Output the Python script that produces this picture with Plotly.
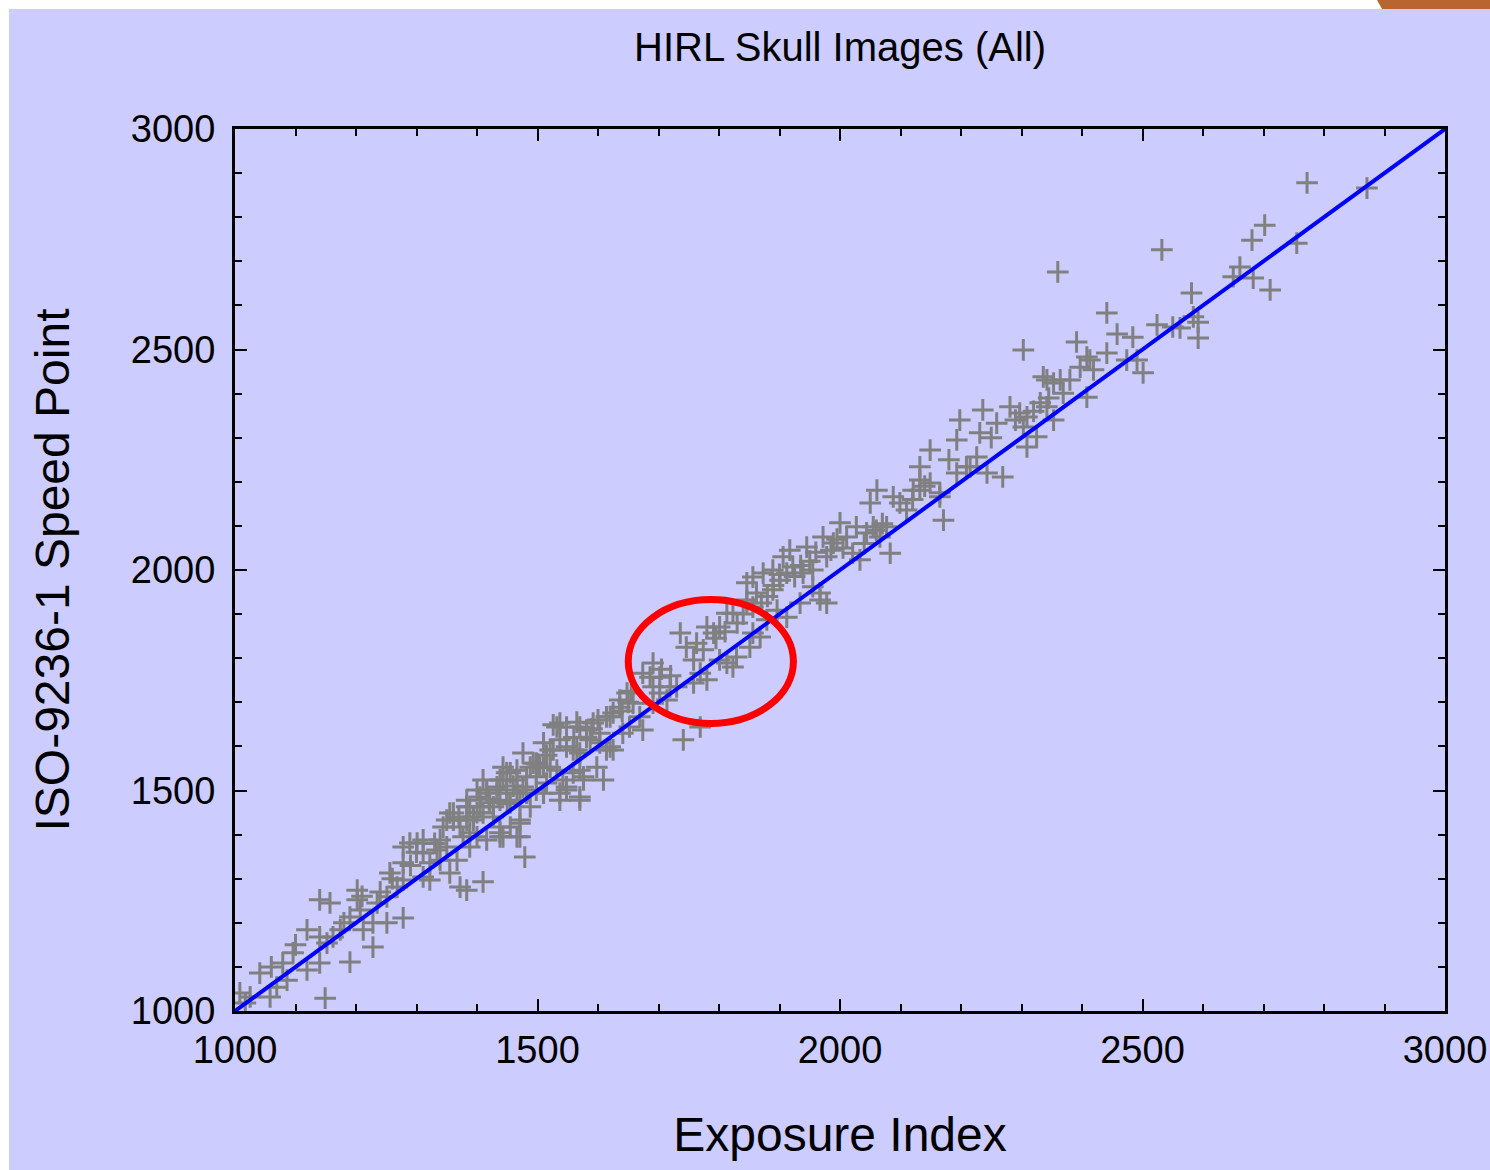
import plotly.graph_objects as go

# ---------------- data ----------------
exposure_index = [
    1008, 1025, 1017, 1058, 1041, 1079, 1096, 1086, 1069, 1119, 1140, 1119, 1140, 1152, 1162, 1174,
    1140, 1157, 1190, 1202, 1202, 1207, 1212, 1228, 1190, 1149, 1228, 1251, 1251, 1235, 1278, 1256,
    1268, 1278, 1278, 1278, 1289, 1301, 1311, 1322, 1322, 1334, 1339, 1350, 1355, 1372, 1383, 1410,
    1367, 1377, 1388, 1400, 1443, 1466, 1479, 1311,
    1350, 1361, 1372, 1383, 1394, 1405, 1416, 1433, 1443, 1427, 1438, 1471, 1471, 1449, 1466, 1476,
    1493, 1504, 1510, 1526, 1537, 1548, 1565, 1570, 1548, 1537, 1570, 1576, 1598, 1609, 1532, 1537,
    1570, 1581, 1592, 1587, 1603, 1620, 1614, 1625, 1636, 1648, 1658, 1674, 1669, 1691, 1702, 1719,
    1476, 1482, 1498,
    1620, 1655, 1674, 1691, 1686, 1702, 1691, 1714, 1730, 1741, 1769, 1736, 1746, 1763, 1774, 1758,
    1780, 1791, 1801, 1813, 1823, 1801, 1813, 1823, 1829, 1769, 1780, 1758, 1846, 1856, 1862, 1873,
    1889, 1901, 1912, 1922, 1879, 1896, 1856, 1868, 1912, 1934, 1939, 1955, 1978, 1967, 1846, 1856,
    1889, 1955,
    1906, 1917, 1945, 1967, 1972, 1978, 1989, 2000, 2011, 2021, 2027, 2033, 2044, 2055, 2066, 2077,
    2083, 2061, 2050, 2088, 2099, 2110, 2121, 2132, 2132, 2149, 2165, 2171, 2193, 2215, 2243, 1846,
    1851,
    2165, 2149, 2193, 2198, 2231, 2236, 2259, 2269, 2226, 2209, 2281, 2297, 2309, 2303, 2309, 2325,
    2331, 2342, 2353, 2342, 2353, 2364, 2380, 2369, 2408, 2397, 2408, 2419, 2441, 2474, 2501, 2303,
    2132,
    2360, 2532, 2391, 2441, 2458, 2484, 2491, 2524, 2550, 2562, 2581, 2584, 2592, 2592, 2661, 2650,
    2683, 2681, 2702, 2711, 2755, 2413, 2336,
    2772, 2871,
    1548, 1526, 1565, 1521, 1559, 1570, 1581, 1603, 1614, 1625, 1641, 1652, 1636, 1488, 1498, 1510,
    1521, 1532, 1542, 1559, 1576, 1548, 1570, 1537, 1443, 1455, 1466, 1438, 1410, 1400, 1416, 1433,
    1449, 1466, 1471, 1482, 1498, 1510, 1515, 1488, 1383, 1388, 1405, 1421, 1438, 1455, 1355, 1361,
    1383, 1394, 1410, 1427, 1438, 1455, 1471, 1438, 1416, 1388, 1344, 1339, 1311,
    1890, 1900, 1925, 1935, 1950, 1960, 1985, 1995, 2005, 2040, 2060, 2070, 1880, 1870, 1840, 1830,
    1810, 1795, 1720, 1705, 1650, 1640, 1600, 1590, 1560, 1515, 1500, 1460, 1450, 1420, 1400, 1370,
    1330, 1300, 1290, 1260, 1240, 1210, 1180, 1100, 1060, 2290, 2320, 2345, 2250, 2180, 2120, 2140,
]
speed_point = [
    1041, 1032, 1018, 1032, 1086, 1109, 1132, 1070, 1054, 1093, 1109, 1184, 1168, 1154, 1168, 1184,
    1252, 1245, 1213, 1274, 1252, 1229, 1184, 1145, 1111, 1029, 1200, 1200, 1259, 1245, 1211, 1313,
    1281, 1297, 1336, 1372, 1381, 1381, 1358, 1336, 1297, 1365, 1342, 1372, 1313, 1281, 1274, 1293,
    1342, 1395, 1372, 1395, 1395, 1395, 1349, 1304,
    1433, 1449, 1417, 1463, 1433, 1485, 1501, 1508, 1524, 1463, 1404, 1426, 1395, 1540, 1546, 1585,
    1562, 1553, 1608, 1592, 1615, 1599, 1592, 1546, 1508, 1494, 1485, 1531, 1553, 1524, 1644, 1653,
    1644, 1637, 1653, 1615, 1608, 1599, 1667, 1676, 1705, 1721, 1698, 1637, 1667, 1698, 1721, 1735,
    1508, 1531, 1531,
    1667, 1725, 1766, 1789, 1757, 1757, 1735, 1705, 1735, 1615, 1644, 1857, 1825, 1834, 1819, 1796,
    1871, 1857, 1871, 1902, 1902, 1796, 1789, 1780, 1803, 1766, 1751, 1744, 1932, 1916, 1948, 1993,
    2000, 1977, 1993, 2007, 1887, 1909, 1857, 1848, 1893, 1925, 1993, 2000, 1925, 1948, 1971, 1984,
    1955, 1962,
    2030, 2045, 2052, 1932, 2075, 2030, 2061, 2107, 2075, 2038, 2098, 2023, 2084, 2098, 2075, 2098,
    2038, 2181, 2152, 2166, 2152, 2136, 2181, 2234, 2181, 2197, 2175, 2113, 2220, 2234, 2220, 1925,
    1825,
    2166, 2272, 2295, 2340, 2311, 2363, 2333, 2211, 2256, 2234, 2370, 2356, 2347, 2324, 2279, 2302,
    2379, 2370, 2340, 2431, 2424, 2431, 2431, 2401, 2392, 2460, 2483, 2454, 2492, 2476, 2447, 2499,
    2204,
    2676, 2726, 2517, 2583, 2535, 2528, 2476, 2556, 2551, 2549, 2628, 2574, 2562, 2526, 2687, 2665,
    2662, 2748, 2782, 2635, 2741, 2476, 2438,
    2878, 2866,
    1644, 1649, 1655, 1592, 1592, 1585, 1621, 1630, 1592, 1592, 1630, 1644, 1689, 1553, 1562, 1553,
    1553, 1546, 1524, 1540, 1524, 1501, 1478, 1478, 1553, 1540, 1524, 1524, 1524, 1501, 1494, 1501,
    1494, 1501, 1478, 1494, 1501, 1494, 1517, 1463, 1478, 1463, 1463, 1472, 1478, 1472, 1449, 1433,
    1433, 1440, 1449, 1440, 1417, 1417, 1433, 1395, 1388, 1404, 1417, 1388, 1388,
    1965, 1990, 1985, 2010, 2020, 2040, 2045, 2070, 2050, 2060, 2090, 2105, 1940, 1925, 1900, 1880,
    1860, 1845, 1760, 1775, 1700, 1680, 1660, 1640, 1620, 1580, 1560, 1510, 1470, 1480, 1450, 1440,
    1380, 1360, 1330, 1300, 1270, 1260, 1200, 1150, 1100, 2340, 2360, 2390, 2300, 2250, 2160, 2190,
]

identity_x = [1000, 3000]
identity_y = [1000, 3000]

axis_range = [1000, 3000]
major_ticks = [1000, 1500, 2000, 2500, 3000]
tick_text = ["1000", "1500", "2000", "2500", "3000"]

# highlighted region (ellipse) in data units
ellipse_x = [1650, 1923]
ellipse_y = [1652, 1933]

title_text = "HIRL Skull Images (All)"
x_title = "Exposure Index"
y_title = "ISO-9236-1 Speed Point"

# ---------------- style ----------------
BG = "#CCCCFF"
FONT = "Liberation Sans, Arial, Helvetica, sans-serif"

fig = go.Figure()

fig.add_trace(go.Scatter(
    x=exposure_index, y=speed_point, mode="markers",
    marker=dict(symbol="cross-thin", size=15.5, color="#808080",
                line=dict(color="#808080", width=3)),
    showlegend=False, hoverinfo="x+y",
))
fig.add_trace(go.Scatter(
    x=identity_x, y=identity_y, mode="lines",
    line=dict(color="#0000FF", width=4), showlegend=False,
))

axis_common = dict(
    range=axis_range, tickvals=major_ticks, ticktext=tick_text,
    ticks="inside", ticklen=12, tickwidth=2, tickcolor="black",
    showline=True, linecolor="black", linewidth=3, mirror="allticks",
    showgrid=False, zeroline=False, automargin=False,
    tickfont=dict(family=FONT, size=38, color="black"),
    minor=dict(dtick=100, tick0=1000, ticks="inside", ticklen=7, tickwidth=2,
               tickcolor="black", showgrid=False),
)

fig.update_layout(
    width=1490, height=1170,
    margin=dict(l=235, r=45, t=129, b=159, pad=0, autoexpand=False),
    paper_bgcolor="white", plot_bgcolor=BG,
    font=dict(family=FONT, color="black"),
    title=dict(text=title_text, xref="paper", x=0.5, xanchor="center",
               y=1 - 47 / 1170, yanchor="middle",
               font=dict(family=FONT, size=40, color="black")),
    xaxis=dict(**axis_common,
               title=dict(text=x_title, font=dict(family=FONT, size=48), standoff=48)),
    yaxis=dict(**axis_common,
               title=dict(text=y_title, font=dict(family=FONT, size=48), standoff=47)),
    shapes=[
        # lavender page background, leaving a thin white band top/left
        dict(type="rect", xref="paper", yref="paper", x0=-0.1868, x1=1.06,
             y0=-0.2, y1=1.1361, fillcolor=BG, line=dict(width=0), layer="below"),
        # small orange fragment at top-right edge
        dict(type="path", xref="paper", yref="paper",
             path="M 0.9438 1.1463 L 1.06 1.1463 L 1.06 1.1361 L 0.9480 1.1361 Z",
             fillcolor="#B9652F", line=dict(width=0), layer="above"),
        # red highlight ellipse
        dict(type="circle", xref="x", yref="y",
             x0=ellipse_x[0], x1=ellipse_x[1], y0=ellipse_y[0], y1=ellipse_y[1],
             line=dict(color="#FF0000", width=7), layer="above"),
    ],
)
fig.update_xaxes(ticklabelstandoff=3)
fig.update_yaxes(ticklabelstandoff=9)

fig.write_html("out.html")
